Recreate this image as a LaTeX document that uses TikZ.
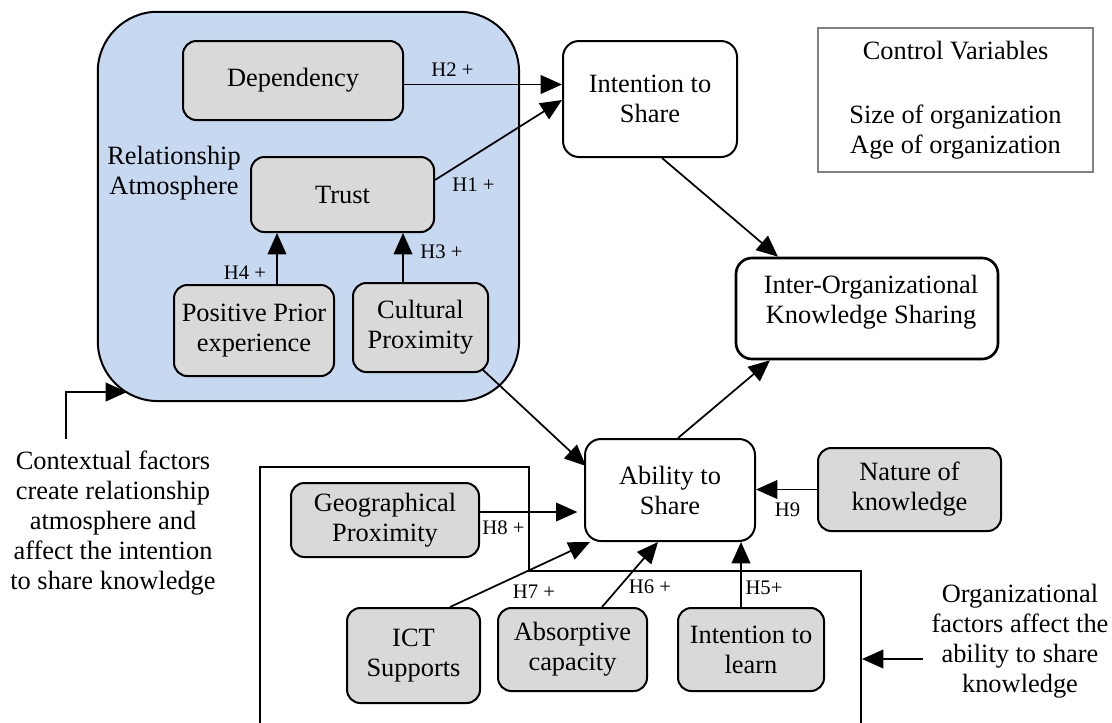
\documentclass[tikz,border=0pt]{standalone}
\usepackage{fontspec}
\setmainfont{Liberation Serif}
\usetikzlibrary{arrows.meta,calc}
\definecolor{rablue}{RGB}{198,217,241}
\definecolor{boxgray}{RGB}{217,217,217}
\definecolor{ctrlgray}{RGB}{128,128,128}
\tikzset{
  big/.style={font=\fontsize{19.8}{22.5}\selectfont},
  lbl/.style={font=\fontsize{15.5}{18}\selectfont, inner sep=0pt},
  sz/.style 2 args={minimum width=#1*0.75pt, minimum height=#2*0.75pt},
  gbox/.style={big, draw, line width=1.5pt, fill=boxgray, rounded corners=10pt, align=center, inner sep=0pt},
  wbox/.style={big, draw, line width=1.5pt, fill=white, rounded corners=12pt, align=center, inner sep=0pt},
  txt/.style={big, align=center, inner sep=0pt},
  arr/.style={line width=1.3pt, -{Triangle[length=16pt,width=14pt]}},
  plainline/.style={line width=1.3pt},
}
\begin{document}
\begin{tikzpicture}[x=0.75pt,y=-0.75pt]
\useasboundingbox (0,0) rectangle (1112,722);

% relationship atmosphere container
\node[draw, line width=1.5pt, fill=rablue, rounded corners=45pt, sz={421.3}{389.3}] (ra) at (308.4,206.4) {};
\node[txt] (ratext) at (174,173) {Relationship\\Atmosphere};

\node[gbox, sz={220}{79}] (dep) at (293,80.5) {Dependency};
\node[gbox, sz={183}{75}] (trust) at (342.5,194.5) {Trust};
\node[gbox, sz={160}{91}] (pos) at (254,330.5) {Positive Prior\\experience};
\node[gbox, sz={135}{89}] (cult) at (420.5,327.5) {Cultural\\Proximity};

\node[wbox, sz={174}{116}] (int) at (650,99) {Intention to\\Share};
\node[draw=ctrlgray, line width=1.5pt, sz={275}{144}, txt] (ctrl) at (955.5,100)
  {Control Variables\\[25.5pt]Size of organization\\Age of organization};
\node[wbox, line width=2pt, sz={262}{101}] (ioks) at (867,308.5) {};
\node[txt] (ioksT) at (871,302) {Inter-Organizational\\Knowledge Sharing};

\node[wbox, sz={170}{102}] (ability) at (670,490) {Ability to\\Share};
\node[gbox, sz={183}{83}] (nature) at (909.5,489.5) {Nature of\\knowledge};

% organizational frame
\draw[plainline] (260,730) -- (260,467) -- (529,467) -- (529,571) -- (861,571) -- (861,730);
\coordinate (orge) at (862,659);

\node[gbox, sz={188}{74}] (geo) at (385,520) {Geographical\\Proximity};
\node[gbox, sz={133}{95}] (ict) at (413.5,655.5) {ICT\\Supports};
\node[gbox, sz={149}{83}] (abs) at (572.5,649.5) {Absorptive\\capacity};
\node[gbox, sz={146}{83}] (learn) at (751,649.5) {Intention to\\learn};

\node[txt] (ctx) at (113,523) {Contextual factors\\create relationship\\atmosphere and\\affect the intention\\to share knowledge};
\node[txt] (org) at (1020,641) {Organizational\\factors affect the\\ability to share\\knowledge};

% connectors
\draw[arr] ($(dep.east)+(0,4)$) coordinate (h2s) -- (h2s -| int.west);
\draw[arr] ($(trust.north east)+(0,24)$) -- ($(int.west)+(0,1)$);
\draw[arr] ($(pos.north)+(23,0)$) coordinate (h4s) -- (h4s |- trust.south);
\draw[arr] ($(cult.north)+(-17.5,0)$) coordinate (h3s) -- (h3s |- trust.south);
\draw[arr] ($(int.south)+(12,0)$) -- ($(ioks.north)+(-89,0)$);
\draw[arr] ($(ability.north)+(8,0)$) -- ($(ioks.south)+(-97,0)$);
\draw[arr] ($(cult.south east)+(-7,-4)$) -- ($(ability.west)+(2,-24)$);
\draw[arr, shorten >=5pt] ($(geo.east)+(0,-8)$) coordinate (h8s) -- (h8s -| ability.west);
\draw[arr] ($(ict.north)+(36.5,0)$) -- ($(ability.south west)+(6,0)$);
\draw[arr] ($(abs.north)+(29.5,0)$) -- ($(ability.south)+(-12,0)$);
\draw[arr] ($(learn.north)+(-10,0)$) coordinate (h5s) -- (h5s |- ability.south);
\draw[arr] (nature.west) -- (nature.west -| ability.east);

\coordinate (ctxs) at (66,439);
\coordinate (ctxe) at (127,392);
\draw[arr] (ctxs) |- (ctxe);
\coordinate (orgs) at (923,659);
\draw[arr] (orgs) -- (orge);

% labels
\node[lbl] (l2) at (452.5,70) {H2 +};
\node[lbl] (l1) at (473.5,185) {H1 +};
\node[lbl] (l4) at (245,273) {H4 +};
\node[lbl] (l3) at (441.5,252) {H3 +};
\node[lbl] (l8) at (503.5,528) {H8 +};
\node[lbl] (l7) at (534,592) {H7 +};
\node[lbl] (l6) at (650,587) {H6 +};
\node[lbl] (l5) at (764,588) {H5+};
\node[lbl] (l9) at (787.5,510) {H9};
\end{tikzpicture}
\end{document}
